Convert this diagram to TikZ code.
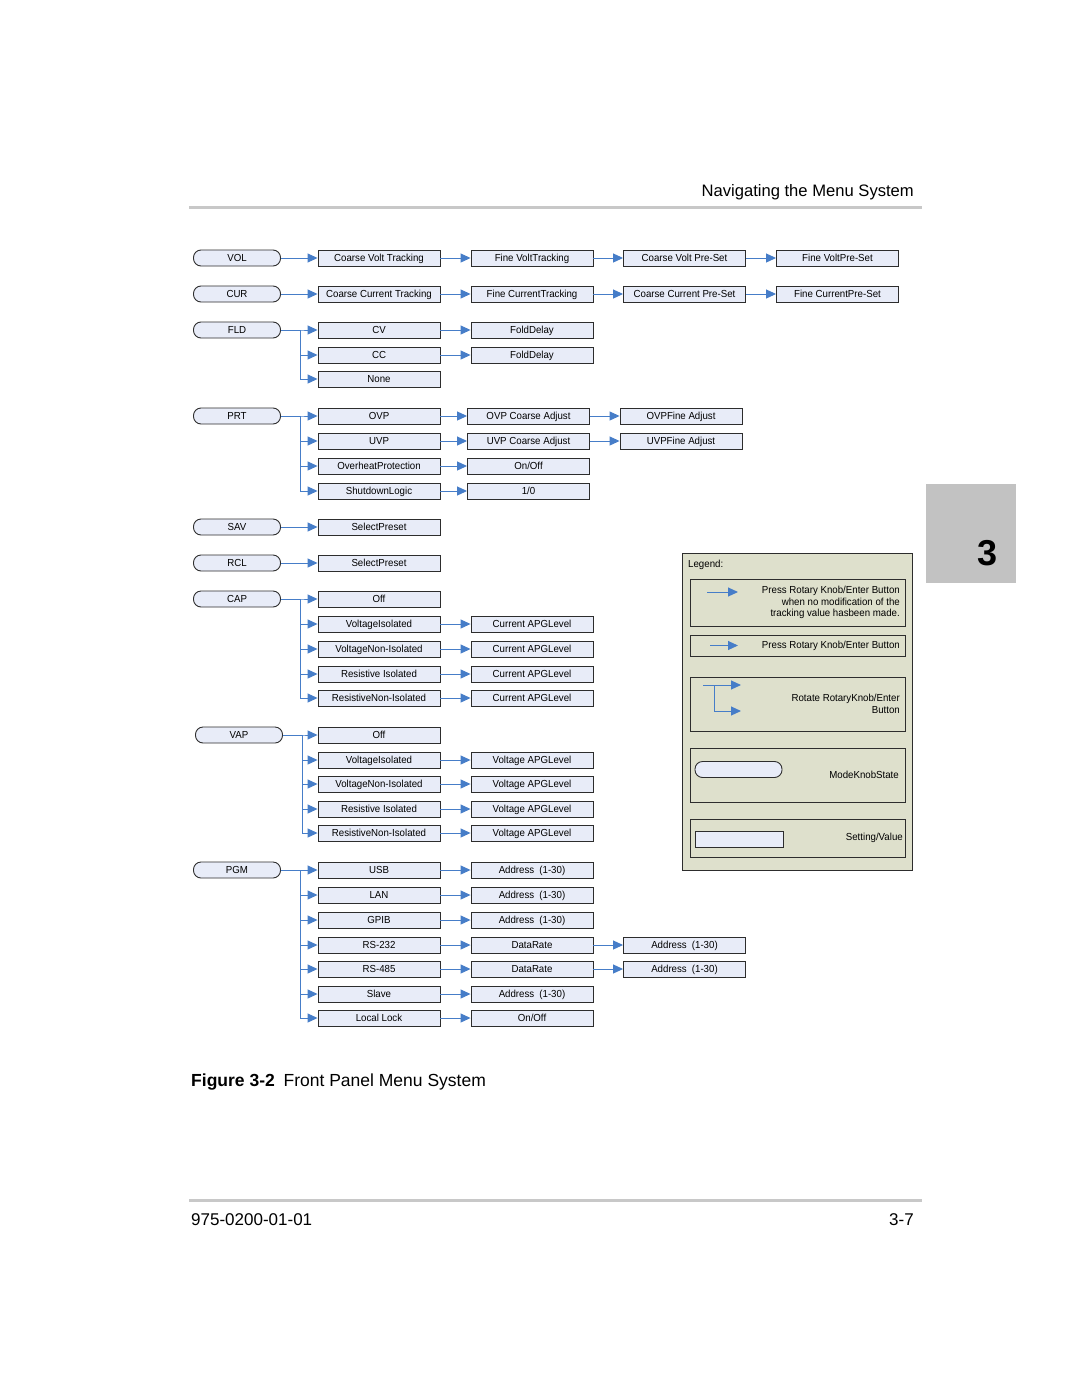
\documentclass[tikz,border=0pt]{standalone}
\usepackage{fontspec}
\setmainfont{Liberation Sans}
\newfontfamily\narrowfont[FakeStretch=0.95]{Liberation Sans}
\usetikzlibrary{arrows.meta,positioning}

\definecolor{boxfill}{RGB}{232,236,248}
\definecolor{boxline}{RGB}{45,45,45}
\definecolor{arrowblue}{RGB}{70,125,200}
\definecolor{legendfill}{RGB}{222,224,204}
\definecolor{rulegray}{RGB}{200,200,200}
\definecolor{tabgray}{RGB}{194,194,194}

\tikzset{
  mode/.style={draw=boxline, fill=boxfill, line width=0.9pt, rounded corners=7.5pt,
    minimum width=87pt, minimum height=16pt, inner sep=0pt,
    text height=7.4pt, text depth=0.6pt,
    font=\narrowfont\fontsize{10.2}{11}\selectfont},
  setting/.style={draw=boxline, fill=boxfill, line width=0.9pt,
    minimum width=122pt, minimum height=16pt, inner sep=0pt,
    text height=7.4pt, text depth=0.6pt,
    font=\narrowfont\fontsize{10.2}{11}\selectfont},
  arr/.style={draw=arrowblue, line width=1pt, -{Triangle[length=10pt,width=9pt]}},
  legbox/.style={draw=boxline, fill=legendfill, line width=0.8pt},
  legtext/.style={inner sep=0pt, align=right, anchor=east,
    font=\narrowfont\fontsize{10.2}{11.5}\selectfont},
}

\begin{document}
\begin{tikzpicture}[x=1pt, y=-1pt]

    \useasboundingbox[fill=white] (0,0) rectangle (1080,1397);

    % page header
    \node[anchor=base east, inner sep=0pt, font=\fontsize{16.6}{19}\selectfont] (head) at (914,196) {Navigating the Menu System};
    \draw[rulegray, line width=3pt] (189,207) -- (922,207);

    % chapter tab
    \fill[tabgray] (926,484) rectangle (1016,583);
    \node[inner sep=0pt, font=\bfseries\fontsize{36}{40}\selectfont] (tab) at (987,553) {3};

    % VOL
    \node[mode] (vol) at (237,258) {VOL};
    \node[setting] (vol1) at (379,258) {Coarse Volt Tracking};
    \node[setting] (vol2) at (532,258) {Fine VoltTracking};
    \node[setting] (vol3) at (684.5,258) {Coarse Volt Pre-Set};
    \node[setting] (vol4) at (837.5,258) {Fine VoltPre-Set};
    \draw[arr] (vol) -- (vol1);
    \draw[arr] (vol1) -- (vol2);
    \draw[arr] (vol2) -- (vol3);
    \draw[arr] (vol3) -- (vol4);

    % CUR
    \node[mode] (cur) at (237,294) {CUR};
    \node[setting] (cur1) at (379,294) {Coarse Current Tracking};
    \node[setting] (cur2) at (532,294) {Fine CurrentTracking};
    \node[setting] (cur3) at (684.5,294) {Coarse Current Pre-Set};
    \node[setting] (cur4) at (837.5,294) {Fine CurrentPre-Set};
    \draw[arr] (cur) -- (cur1);
    \draw[arr] (cur1) -- (cur2);
    \draw[arr] (cur2) -- (cur3);
    \draw[arr] (cur3) -- (cur4);

    % FLD
    \node[mode] (fld) at (237,330) {FLD};
    \node[setting] (cv) at (379,330) {CV};
    \node[setting] (cc) at (379,355) {CC};
    \node[setting] (none) at (379,379) {None};
    \node[setting] (cvdelay) at (532,330) {FoldDelay};
    \node[setting] (ccdelay) at (532,355) {FoldDelay};
    \foreach \n in {cv,cc,none}
        \draw[arr] (fld.east) -- ++(20,0) |- (\n.west);
    \draw[arr] (cv) -- (cvdelay);
    \draw[arr] (cc) -- (ccdelay);

    % PRT
    \node[mode] (prt) at (237,416) {PRT};
    \node[setting] (ovp) at (379,416) {OVP};
    \node[setting] (uvp) at (379,441) {UVP};
    \node[setting] (ovh) at (379,466) {OverheatProtection};
    \node[setting] (shd) at (379,491) {ShutdownLogic};
    \node[setting] (ovpc) at (528.5,416) {OVP Coarse Adjust};
    \node[setting] (uvpc) at (528.5,441) {UVP Coarse Adjust};
    \node[setting] (ovhon) at (528.5,466) {On/Off};
    \node[setting] (shdio) at (528.5,491) {1/0};
    \node[setting] (ovpf) at (681,416) {OVPFine Adjust};
    \node[setting] (uvpf) at (681,441) {UVPFine Adjust};
    \foreach \n in {ovp,uvp,ovh,shd}
        \draw[arr] (prt.east) -- ++(20,0) |- (\n.west);
    \draw[arr] (ovp) -- (ovpc);
    \draw[arr] (uvp) -- (uvpc);
    \draw[arr] (ovh) -- (ovhon);
    \draw[arr] (shd) -- (shdio);
    \draw[arr] (ovpc) -- (ovpf);
    \draw[arr] (uvpc) -- (uvpf);

    % SAV and RCL
    \node[mode] (sav) at (237,527) {SAV};
    \node[setting] (savsel) at (379,527) {SelectPreset};
    \draw[arr] (sav) -- (savsel);
    \node[mode] (rcl) at (237,563) {RCL};
    \node[setting] (rclsel) at (379,563) {SelectPreset};
    \draw[arr] (rcl) -- (rclsel);

    % CAP
    \node[mode] (cap) at (237,599) {CAP};
    \node[setting] (capoff) at (379,599) {Off};
    \node[setting] (capvi) at (379,624) {VoltageIsolated};
    \node[setting] (capvn) at (379,649) {VoltageNon-Isolated};
    \node[setting] (capri) at (379,674) {Resistive Isolated};
    \node[setting] (caprn) at (379,698) {ResistiveNon-Isolated};
    \foreach \n in {capoff,capvi,capvn,capri,caprn}
        \draw[arr] (cap.east) -- ++(20,0) |- (\n.west);
    \foreach \n/\y in {capvi/624,capvn/649,capri/674,caprn/698} {
        \node[setting] (\n lvl) at (532,\y) {Current APGLevel};
        \draw[arr] (\n) -- (\n lvl);
    }

    % VAP
    \node[mode] (vap) at (239,735) {VAP};
    \node[setting] (vapoff) at (379,735) {Off};
    \node[setting] (vapvi) at (379,760) {VoltageIsolated};
    \node[setting] (vapvn) at (379,784) {VoltageNon-Isolated};
    \node[setting] (vapri) at (379,809) {Resistive Isolated};
    \node[setting] (vaprn) at (379,833) {ResistiveNon-Isolated};
    \foreach \n in {vapoff,vapvi,vapvn,vapri,vaprn}
        \draw[arr] (vap.east) -- ++(20,0) |- (\n.west);
    \foreach \n/\y in {vapvi/760,vapvn/784,vapri/809,vaprn/833} {
        \node[setting] (\n lvl) at (532,\y) {Voltage APGLevel};
        \draw[arr] (\n) -- (\n lvl);
    }

    % PGM
    \node[mode] (pgm) at (237,870) {PGM};
    \node[setting] (usb) at (379,870) {USB};
    \node[setting] (lan) at (379,895) {LAN};
    \node[setting] (gpib) at (379,920) {GPIB};
    \node[setting] (rsa) at (379,945) {RS-232};
    \node[setting] (rsb) at (379,969) {RS-485};
    \node[setting] (slave) at (379,994) {Slave};
    \node[setting] (lock) at (379,1018) {Local Lock};
    \node[setting] (usbaddr) at (532,870) {Address\enspace(1-30)};
    \node[setting] (lanaddr) at (532,895) {Address\enspace(1-30)};
    \node[setting] (gpibaddr) at (532,920) {Address\enspace(1-30)};
    \node[setting] (rsarate) at (532,945) {DataRate};
    \node[setting] (rsbrate) at (532,969) {DataRate};
    \node[setting] (slaveaddr) at (532,994) {Address\enspace(1-30)};
    \node[setting] (lockon) at (532,1018) {On/Off};
    \node[setting] (rsaaddr) at (684.5,945) {Address\enspace(1-30)};
    \node[setting] (rsbaddr) at (684.5,969) {Address\enspace(1-30)};
    \foreach \n in {usb,lan,gpib,rsa,rsb,slave,lock}
        \draw[arr] (pgm.east) -- ++(20,0) |- (\n.west);
    \draw[arr] (usb) -- (usbaddr);
    \draw[arr] (lan) -- (lanaddr);
    \draw[arr] (gpib) -- (gpibaddr);
    \draw[arr] (rsa) -- (rsarate);
    \draw[arr] (rsb) -- (rsbrate);
    \draw[arr] (slave) -- (slaveaddr);
    \draw[arr] (lock) -- (lockon);
    \draw[arr] (rsarate) -- (rsaaddr);
    \draw[arr] (rsbrate) -- (rsbaddr);

    % legend
    \draw[legbox] (682,553) rectangle (912,870);
    \node[anchor=base west, inner sep=0pt, font=\narrowfont\fontsize{10.2}{11}\selectfont] (legend) at (688,567) {Legend:};
    \draw[legbox] (690,579) rectangle (905,626);
    \coordinate (la) at (707,592);
    \draw[arr] (la) -- ++(31,0);
    \node[legtext] (latext) at (900,602.5) {Press Rotary Knob/Enter Button\\when no modification of the\\tracking value hasbeen made.};
    \draw[legbox] (690,635) rectangle (905,656);
    \coordinate (lb) at (710,645.5);
    \draw[arr] (lb) -- ++(28,0);
    \node[legtext] (lbtext) at (900,645.5) {Press Rotary Knob/Enter Button};
    \draw[legbox] (690,677) rectangle (905,731);
    \coordinate (lc) at (703,685);
    \draw[arr] (lc) -- ++(38,0);
    \draw[arr] (lc) ++(11,0) |- ++(27,26);
    \node[legtext] (lctext) at (900,704) {Rotate RotaryKnob/Enter\\Button};
    \draw[legbox] (690,748) rectangle (905,802);
    \node[mode] (lmode) at (738.5,769.5) {};
    \node[legtext] (ldtext) at (899,775) {ModeKnobState};
    \draw[legbox] (690,819) rectangle (905,857);
    \node[setting, minimum width=88pt] (lset) at (739,839) {};
    \node[legtext] (letext) at (903,838) {Setting/Value};

    % caption
    \node[anchor=base west, inner sep=0pt, font=\fontsize{17.5}{20}\selectfont] (caption) at (191,1086) {\textbf{Figure 3-2}\enspace Front Panel Menu System};

    % footer
    \draw[rulegray, line width=3pt] (189,1200) -- (922,1200);
    \node[anchor=base west, inner sep=0pt, font=\fontsize{17}{20}\selectfont] (docno) at (191,1225) {975-0200-01-01};
    \node[anchor=base east, inner sep=0pt, font=\fontsize{17}{20}\selectfont] (pageno) at (914,1225) {3-7};
\end{tikzpicture}
\end{document}
